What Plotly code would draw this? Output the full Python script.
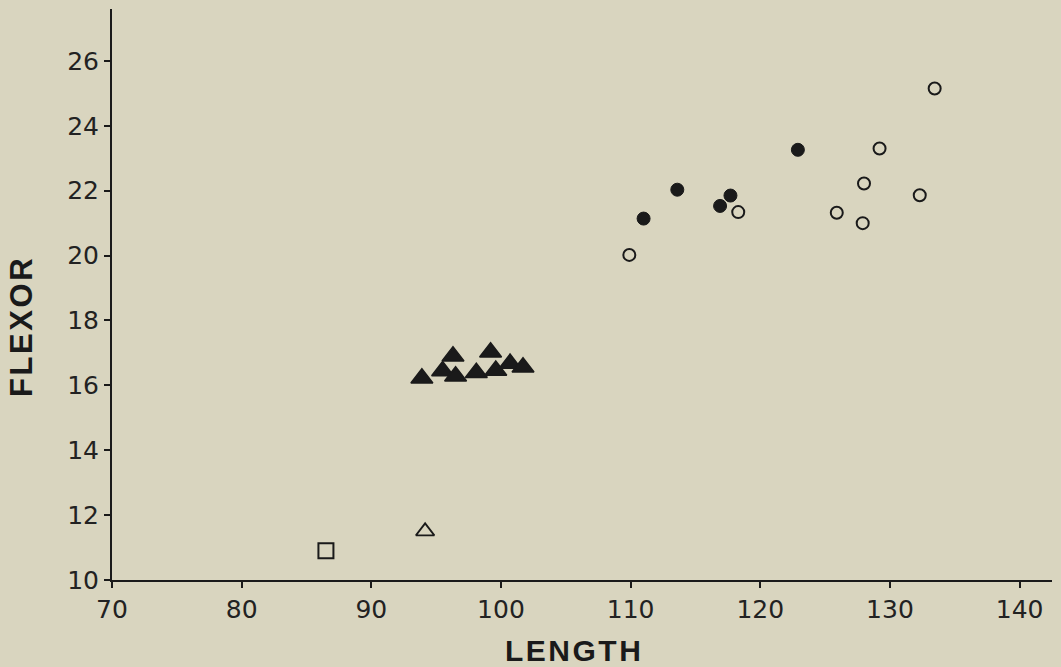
import plotly.graph_objects as go

# Data
filled_tri_x = [93.9, 96.3, 95.5, 96.5, 98.1, 99.2, 99.6, 100.7, 101.7]
filled_tri_y = [16.22, 16.90, 16.44, 16.28, 16.39, 17.02, 16.46, 16.67, 16.56]

filled_circ_x = [111.0, 113.6, 116.9, 117.7, 122.9]
filled_circ_y = [21.14, 22.03, 21.53, 21.85, 23.26]

open_circ_x = [109.9, 118.3, 133.45, 129.2, 128.0, 132.3, 125.9, 127.9]
open_circ_y = [20.02, 21.34, 25.15, 23.30, 22.22, 21.86, 21.32, 21.0]

open_tri_x = [94.15]
open_tri_y = [11.5]

open_sq_x = [86.5]
open_sq_y = [10.9]

x_ticks = [70, 80, 90, 100, 110, 120, 130, 140]
y_ticks = [10, 12, 14, 16, 18, 20, 22, 24, 26]

x_title = "LENGTH"
y_title = "FLEXOR"

BG = "#d9d5bf"
INK = "#1a1a1a"

fig = go.Figure()
fig.add_trace(go.Scatter(x=filled_tri_x, y=filled_tri_y, mode="markers",
                         marker=dict(symbol="triangle-up", size=19, color=INK,
                                     line=dict(color=INK, width=1.5))))
fig.add_trace(go.Scatter(x=filled_circ_x, y=filled_circ_y, mode="markers",
                         marker=dict(symbol="circle", size=13, color=INK,
                                     line=dict(color=INK, width=1))))
fig.add_trace(go.Scatter(x=open_circ_x, y=open_circ_y, mode="markers",
                         marker=dict(symbol="circle-open", size=12, color=INK,
                                     line=dict(color=INK, width=2))))
fig.add_trace(go.Scatter(x=open_tri_x, y=open_tri_y, mode="markers",
                         marker=dict(symbol="triangle-up-open", size=16, color=INK,
                                     line=dict(color=INK, width=1.8))))
fig.add_trace(go.Scatter(x=open_sq_x, y=open_sq_y, mode="markers",
                         marker=dict(symbol="square-open", size=15, color=INK,
                                     line=dict(color=INK, width=2))))

# body margin is removed in the page (post_script), so the figure fills the window
W, H = 1061, 667
ML, MR, MT, MB = 112, 9, 9, 87
fig.update_layout(
    width=W, height=H,
    paper_bgcolor=BG, plot_bgcolor=BG,
    showlegend=False,
    margin=dict(l=ML, r=MR, t=MT, b=MB),
    font=dict(family="DejaVu Sans, Liberation Sans, sans-serif", color=INK, size=20),
)
fig.update_xaxes(
    range=[70, 142.5], tickvals=x_ticks, ticktext=[str(v) for v in x_ticks],
    showgrid=False, zeroline=False, showline=True, linecolor=INK, linewidth=2,
    ticks="outside", ticklen=6, tickwidth=1.5, tickcolor=INK,
    tickfont=dict(size=25, color="#222222"),
)
fig.update_yaxes(
    range=[10, 27.6], tickvals=y_ticks, ticktext=[str(v) for v in y_ticks],
    showgrid=False, zeroline=False, showline=True, linecolor=INK, linewidth=2,
    ticks="outside", ticklen=6, tickwidth=1.5, tickcolor=INK,
    tickfont=dict(size=25, color="#222222"),
)

# axis titles placed as annotations, positions given in page pixels
PW = W - ML - MR
PH = H - MT - MB
PX0 = ML
PY1 = MT + PH

hair = "\u200a"
fig.add_annotation(text="<b>" + hair.join(x_title) + "</b>", xref="paper", yref="paper",
                   x=(573 - PX0) / PW, y=-(650 - PY1) / PH, showarrow=False,
                   font=dict(size=30, family="Liberation Sans, Arial, sans-serif"),
                   xanchor="center", yanchor="middle")
fig.add_annotation(text="<b>" + hair.join(y_title) + "</b>", xref="paper", yref="paper",
                   x=-(PX0 - 21) / PW, y=(PY1 - 328) / PH,
                   showarrow=False, textangle=-90,
                   font=dict(size=31, family="Liberation Sans, Arial, sans-serif"),
                   xanchor="center", yanchor="middle")

fig.write_html(
    "out.html",
    config={"displayModeBar": False},
    post_script="document.body.style.margin='0';document.body.style.background='%s';" % BG,
)
